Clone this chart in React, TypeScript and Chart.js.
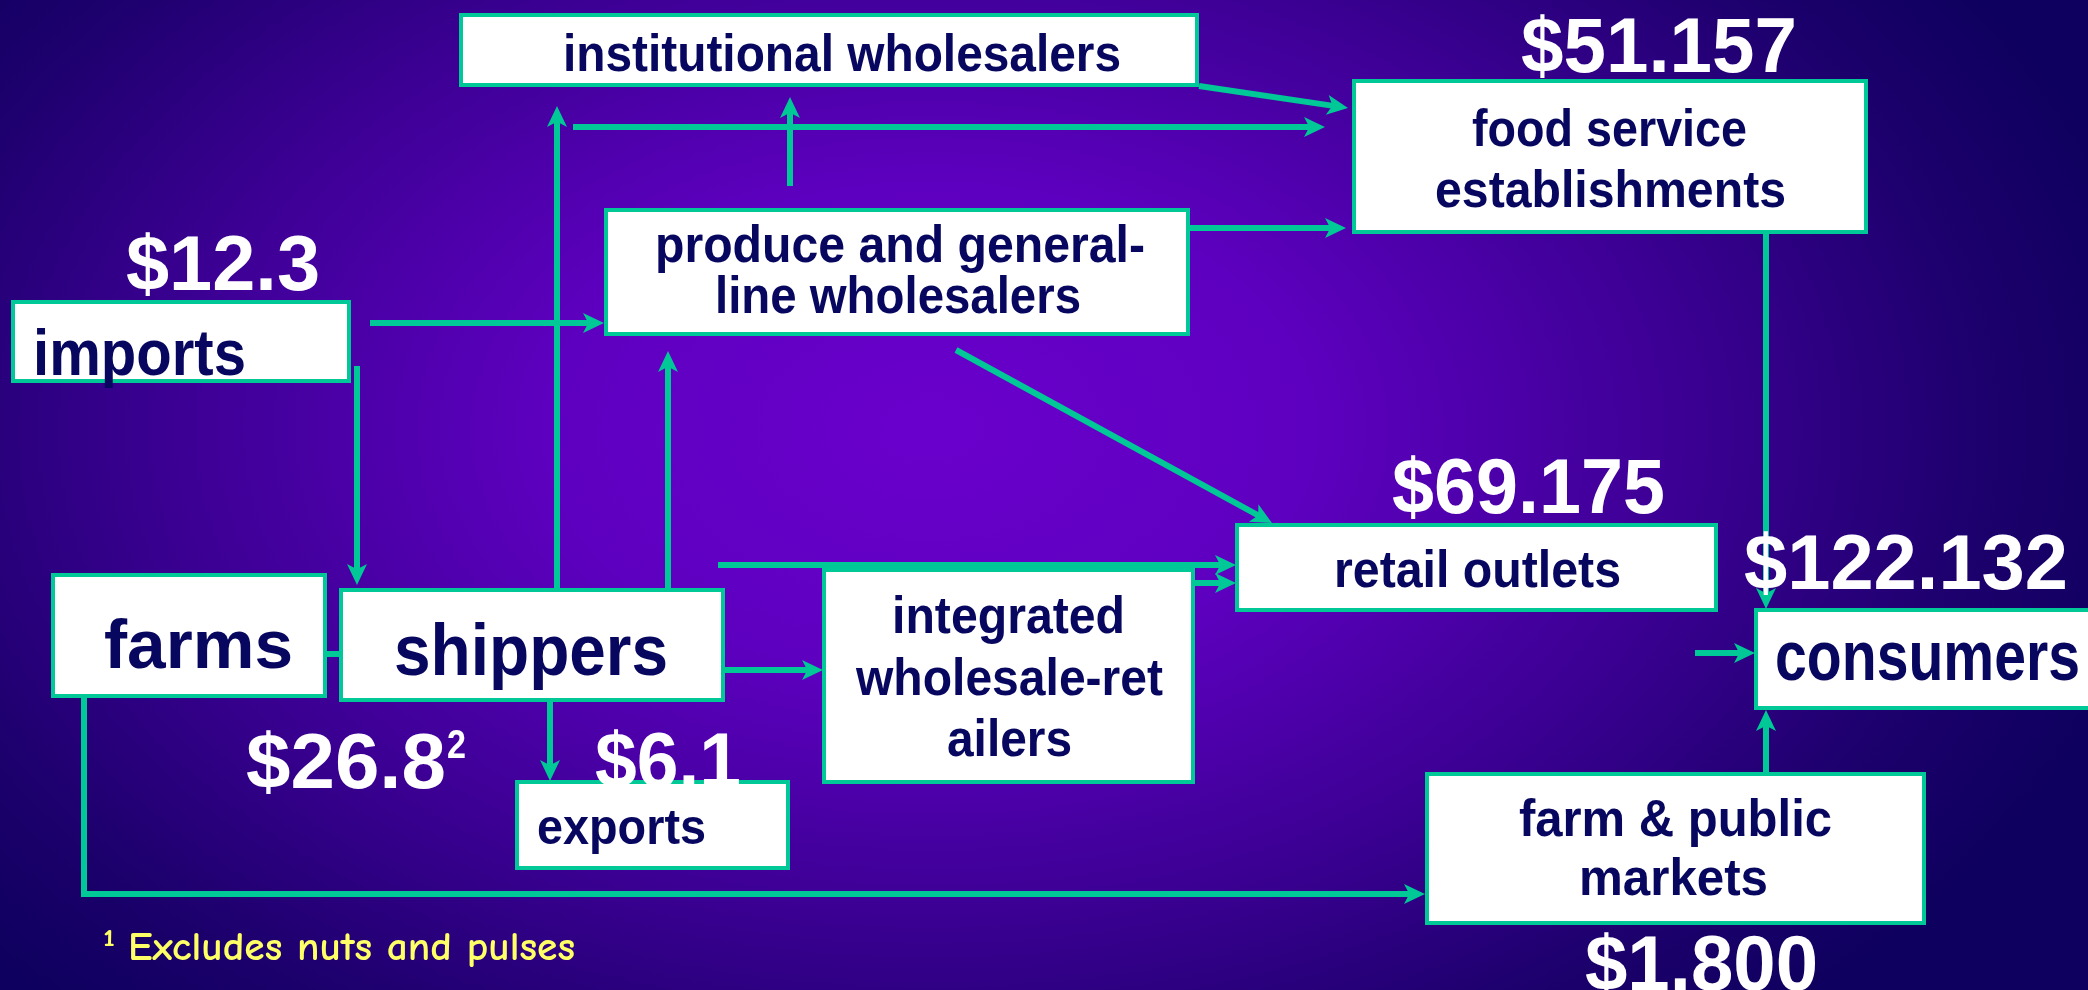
import React, { useEffect, useRef } from 'react';
import { Chart, registerables } from 'chart.js';

Chart.register(...registerables);

// ---------------- DATA ----------------
const nodeNames: string[] = [
  'institutional wholesalers',
  'food service establishments',
  'produce and general-line wholesalers',
  'imports',
  'farms',
  'shippers',
  'exports',
  'integrated wholesale-retailers',
  'retail outlets',
  'consumers',
  'farm & public markets',
];
const nodeLines: string[][] = [
  ['institutional wholesalers'],
  ['food service', 'establishments'],
  ['produce and general-', 'line wholesalers'],
  ['imports'],
  ['farms'],
  ['shippers'],
  ['exports'],
  ['integrated', 'wholesale-ret', 'ailers'],
  ['retail outlets'],
  ['consumers'],
  ['farm & public', 'markets'],
];
const valueNodes: string[] = ['imports', 'farms', 'exports', 'food service establishments', 'retail outlets', 'consumers', 'farm & public markets'];
const valueLabels: string[] = ['$12.3', '$26.8', '$6.1', '$51.157', '$69.175', '$122.132', '$1.800'];
const valueSuperscripts: string[] = ['', '2', '', '', '', '', ''];
const flowFrom: string[] = [
  'institutional wholesalers', 'shippers', 'produce and general-line wholesalers', 'shippers',
  'produce and general-line wholesalers', 'imports', 'imports', 'shippers',
  'produce and general-line wholesalers', 'shippers', 'integrated wholesale-retailers', 'shippers',
  'shippers', 'farms', 'farms', 'food service establishments', 'retail outlets', 'farm & public markets',
];
const flowTo: string[] = [
  'food service establishments', 'food service establishments', 'institutional wholesalers', 'institutional wholesalers',
  'food service establishments', 'produce and general-line wholesalers', 'shippers', 'produce and general-line wholesalers',
  'retail outlets', 'retail outlets', 'retail outlets', 'integrated wholesale-retailers',
  'exports', 'shippers', 'farm & public markets', 'consumers', 'consumers', 'consumers',
];
const footnoteMark = '1';
const footnote = 'Excludes nuts and pulses';

// ---------------- LAYOUT (scale units = pixels of 2088x990 frame) ----------------
const W = 2088;
const H = 990;
// box: [x0, y0, x1, y1]
const boxLayout: number[][] = [
  [461, 15, 1197, 85],
  [1354, 81, 1866, 232],
  [606, 210, 1188, 334],
  [13, 302, 349, 381],
  [53, 575, 325, 696],
  [341, 590, 723, 700],
  [517, 782, 788, 868],
  [824, 570, 1193, 782],
  [1237, 525, 1716, 610],
  [1756, 610, 2100, 708],
  [1427, 774, 1924, 923],
];
// per line: [left, baseline, fontSize, width]
const lineLayout: number[][][] = [
  [[563, 71, 52, 558]],
  [[1472, 146, 52, 275], [1435, 207, 52, 351]],
  [[655, 262, 52, 490], [715, 313, 52, 366]],
  [[33, 375, 64, 213]],
  [[104, 668, 68, 189]],
  [[394, 675, 72, 274]],
  [[537, 844, 50, 169]],
  [[892, 633, 52, 233], [856, 695, 52, 307], [947, 756, 52, 125]],
  [[1334, 587, 52, 287]],
  [[1775, 680, 70, 305]],
  [[1519, 836, 52, 313], [1579, 895, 52, 189]],
];
// value labels: [left, baseline, fontSize, width]
const valueLayout: number[][] = [
  [126, 290, 78, 194],
  [246, 788, 78, 200],
  [595, 787, 78, 146],
  [1521, 72, 78, 276],
  [1392, 513, 78, 273],
  [1744, 589, 78, 324],
  [1585, 990, 78, 233],
];
// flows: polyline points
const flowPaths: number[][][] = [
  [[1199, 86], [1348, 108]],
  [[573, 127], [1325, 127]],
  [[790, 186], [790, 97]],
  [[557, 590], [557, 106]],
  [[1188, 228], [1346, 228]],
  [[370, 323], [604, 323]],
  [[357, 366], [357, 585]],
  [[668, 590], [668, 351]],
  [[956, 350], [1272, 523]],
  [[718, 565], [1236, 565]],
  [[1195, 583], [1236, 583]],
  [[723, 670], [823, 670]],
  [[550, 700], [550, 781]],
  [[325, 654], [341, 654]],
  [[84, 696], [84, 894], [1425, 894]],
  [[1766, 232], [1766, 609]],
  [[1695, 653], [1755, 653]],
  [[1766, 774], [1766, 710]],
];
const flowArrow: boolean[] = [true, true, true, true, true, true, true, true, true, true, true, true, true, false, true, true, true, true];

const TEAL = '#00C896';
const NAVY = '#07075F';
const FONT = '"Liberation Sans", Arial, sans-serif';

function drawFitted(ctx: CanvasRenderingContext2D, text: string, left: number, base: number, size: number, width: number, color: string, family = FONT, weight = 'bold') {
  ctx.save();
  ctx.font = `${weight} ${size}px ${family}`;
  ctx.fillStyle = color;
  ctx.textAlign = 'left';
  ctx.textBaseline = 'alphabetic';
  const m = ctx.measureText(text).width;
  ctx.translate(left, base);
  ctx.scale(width / m, 1);
  ctx.fillText(text, 0, 0);
  ctx.restore();
}

const diagramPlugin = {
  id: 'diagram',
  beforeDraw(chart: any) {
    const ctx: CanvasRenderingContext2D = chart.ctx;
    const cw = chart.width;
    const ch = chart.height;
    ctx.save();
    const cx = 930, cy = 430, rx = 1250, ry = 800;
    ctx.translate(cx, cy);
    ctx.scale(1, ry / rx);
    const g = ctx.createRadialGradient(0, 0, 0, 0, 0, rx);
    g.addColorStop(0, '#6A00CC');
    g.addColorStop(0.3, '#5E00C0');
    g.addColorStop(0.6, '#3C0094');
    g.addColorStop(0.85, '#1C006C');
    g.addColorStop(1, '#0E005E');
    ctx.fillStyle = g;
    ctx.fillRect(-cx - 10, (-cy - 10) * rx / ry, cw + 20, (ch + 20) * rx / ry);
    ctx.restore();
  },
  afterDatasetsDraw(chart: any) {
    const ctx: CanvasRenderingContext2D = chart.ctx;
    const xs = chart.scales.x;
    const ys = chart.scales.y;
    const px = (v: number) => xs.getPixelForValue(v);
    const py = (v: number) => ys.getPixelForValue(v);

    // flows
    flowPaths.forEach((path, i) => {
      ctx.save();
      ctx.strokeStyle = TEAL;
      ctx.fillStyle = TEAL;
      ctx.lineWidth = 6;
      ctx.lineCap = 'butt';
      ctx.lineJoin = 'miter';
      const pts = path.map(p => [px(p[0]), py(p[1])]);
      const n = pts.length;
      const [ex, ey] = pts[n - 1];
      const [sx, sy] = pts[n - 2];
      const ang = Math.atan2(ey - sy, ex - sx);
      const headLen = flowArrow[i] ? 21 : 0;
      ctx.beginPath();
      ctx.moveTo(pts[0][0], pts[0][1]);
      for (let k = 1; k < n - 1; k++) ctx.lineTo(pts[k][0], pts[k][1]);
      ctx.lineTo(ex - Math.cos(ang) * headLen * 0.7, ey - Math.sin(ang) * headLen * 0.7);
      ctx.stroke();
      if (flowArrow[i]) {
        const hw = 10;
        ctx.beginPath();
        ctx.moveTo(ex, ey);
        ctx.lineTo(ex - Math.cos(ang) * headLen - Math.sin(ang) * hw, ey - Math.sin(ang) * headLen + Math.cos(ang) * hw);
        ctx.lineTo(ex - Math.cos(ang) * headLen * 0.75, ey - Math.sin(ang) * headLen * 0.75);
        ctx.lineTo(ex - Math.cos(ang) * headLen + Math.sin(ang) * hw, ey - Math.sin(ang) * headLen - Math.cos(ang) * hw);
        ctx.closePath();
        ctx.fill();
      }
      ctx.restore();
    });

    // boxes
    nodeNames.forEach((name, i) => {
      const [x0, y0, x1, y1] = boxLayout[i];
      ctx.save();
      ctx.fillStyle = '#FFFFFF';
      ctx.fillRect(px(x0), py(y0), px(x1) - px(x0), py(y1) - py(y0));
      ctx.strokeStyle = TEAL;
      ctx.lineWidth = 4;
      ctx.strokeRect(px(x0), py(y0), px(x1) - px(x0), py(y1) - py(y0));
      ctx.restore();
    });
    // box texts
    nodeLines.forEach((lines, i) => {
      lines.forEach((t, j) => {
        const [l, b, s, w] = lineLayout[i][j];
        drawFitted(ctx, t, px(l), py(b), s, px(l + w) - px(l), NAVY);
      });
    });
    // value labels
    valueLabels.forEach((t, i) => {
      const [l, b, s, w] = valueLayout[i];
      drawFitted(ctx, t, px(l), py(b), s, px(l + w) - px(l), '#FFFFFF');
      if (valueSuperscripts[i]) {
        drawFitted(ctx, valueSuperscripts[i], px(l + w + 1), py(b - 30), 40, 19, '#FFFFFF');
      }
    });
    // footnote
    const FN = '"Comic Neue", "Comic Sans MS", "DejaVu Sans", sans-serif';
    drawFitted(ctx, footnoteMark, px(103), py(946), 24, 12, '#FFFF66', FN, 'bold');
    drawFitted(ctx, footnote, px(128), py(960), 40, px(575) - px(128), '#FFFF66', FN, 'bold');
  },
};

export default function App() {
  const ref = useRef<HTMLCanvasElement | null>(null);
  useEffect(() => {
    document.body.style.margin = '0';
    document.body.style.overflow = 'hidden';
    const canvas = ref.current;
    if (!canvas) return;
    const chart = new Chart(canvas, {
      type: 'scatter',
      data: {
        datasets: [
          {
            label: 'nodes',
            data: nodeNames.map((_, i) => ({ x: (boxLayout[i][0] + boxLayout[i][2]) / 2, y: (boxLayout[i][1] + boxLayout[i][3]) / 2 })),
            pointRadius: 0,
            showLine: false,
          },
        ],
      },
      options: {
        responsive: false,
        animation: false,
        devicePixelRatio: 1,
        layout: { padding: 0 },
        events: [],
        scales: {
          x: { type: 'linear', min: 0, max: W, display: false },
          y: { type: 'linear', min: 0, max: H, reverse: true, display: false },
        },
        plugins: {
          legend: { display: false },
          tooltip: { enabled: false },
        },
      },
      plugins: [diagramPlugin],
    });
    return () => chart.destroy();
  }, []);
  return (
    <div style={{ width: W, height: H }}>
      <canvas ref={ref} width={W} height={H} style={{ display: 'block', width: W, height: H }} />
    </div>
  );
}
